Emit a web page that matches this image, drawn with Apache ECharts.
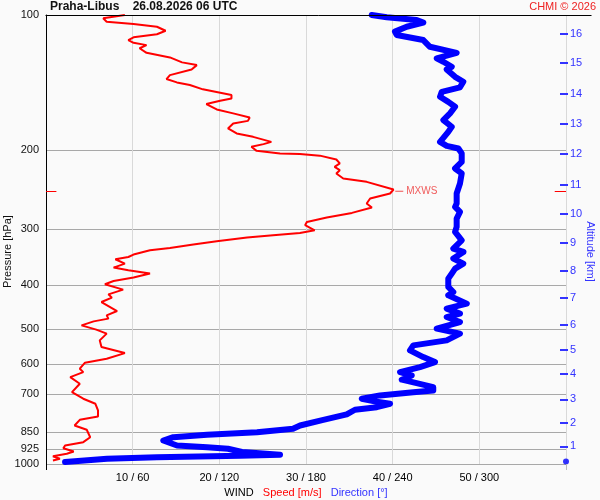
<!DOCTYPE html>
<html><head><meta charset="utf-8">
<script src="https://cdn.jsdelivr.net/npm/echarts@6/dist/echarts.min.js"></script>
<style>html,body{margin:0;padding:0;background:#fafafa}#c{width:600px;height:500px}</style>
</head><body><div id="c"></div>
<script>
// ---- data ----
const pressureTicks = [100, 200, 300, 400, 500, 600, 700, 850, 925, 1000];
const speedTicks = [10, 20, 30, 40, 50];
const altitudeKm = [1, 2, 3, 4, 5, 6, 7, 8, 9, 10, 11, 12, 13, 14, 15, 16];
const altitudeP = [914, 809, 718, 629, 556, 489, 426, 372, 322, 277, 239, 204, 175, 150, 128, 110];

const speedP = [100, 101.7, 103.5, 104.7, 106.2, 108.4, 110.4, 112.1, 113.7, 115.3, 116.7, 118.6, 119.7, 121.4, 124.3, 127.5, 129.3, 132.2, 136.1, 138.9,
  141.3, 143.2, 146.4, 150.8, 153.4, 155.3, 157.9, 159.5, 162.3, 165.6, 169.1, 172.1, 174.4, 178.9, 183.6, 186.8, 191.7, 193.9, 196.6, 200.7,
  203.4, 204.1, 205.7, 209.8, 214.1, 217.9, 221.6, 225.4, 231.3, 235.3, 244.7, 246.9, 249.8, 256.3, 262.9, 268.4, 275.9, 282.5, 289.0, 293.9,
  301.6, 305.8, 309.4, 313.1, 319.1, 324.5, 330.3, 334.2, 341.6, 345.9, 350.0, 357.8, 365.2, 370.3, 376.6, 384.4, 391.2, 397.9, 408.9, 418.9,
  426.0, 435.8, 456.4, 466.6, 474.5, 481.2, 491.1, 502.1, 512.5, 530.4, 549.0, 566.2, 582.7, 594.8, 613.4, 624.2, 640.4, 662.5, 691.8, 715.5,
  734.3, 760.0, 783.8, 797.2, 820.8, 839.0, 871.6, 894.1, 909.5, 922.2, 937.9, 949.0, 960.8, 973.7, 982.3];
const speedVal = [9.1, 6.6, 7.0, 10.1, 12.8, 13.8, 12.8, 10.1, 9.5, 10.1, 11.6, 10.8, 10.6, 11.6, 14.3, 15.7, 17.4, 16.8, 14.3, 13.9,
  15.1, 16.6, 18.1, 21.4, 21.4, 20.1, 18.5, 18.3, 19.7, 21.6, 23.5, 23.3, 21.6, 21.0, 22.0, 23.9, 26.0, 25.1, 23.7, 24.3,
  27.0, 29.3, 31.6, 33.5, 33.9, 33.3, 33.9, 33.5, 34.3, 37.0, 40.1, 40.3, 39.7, 37.4, 37.0, 37.6, 35.3, 32.4, 30.1, 29.9,
  31.0, 29.3, 26.2, 23.2, 19.7, 17.0, 14.3, 12.0, 10.1, 9.5, 8.0, 9.1, 7.8, 9.5, 12.0, 10.1, 7.8, 6.8, 8.9, 7.2,
  7.6, 6.4, 8.2, 7.0, 7.2, 5.5, 4.1, 5.8, 7.0, 6.2, 6.4, 9.1, 7.0, 4.5, 3.9, 4.3, 2.8, 3.9, 3.0, 4.3,
  5.7, 6.0, 6.0, 3.9, 3.3, 4.7, 5.1, 4.3, 2.2, 2.0, 3.2, 2.4, 0.8, 1.6, 0.8];

const dirP = [100, 101.2, 102.6, 104.0, 106.2, 108.9, 110.8, 113.7, 117.7, 121.4, 124.9, 127.1, 130.4, 132.2, 137.3, 140.8, 144.9, 148.3, 152.1, 156.1,
  160.1, 165.6, 171.4, 177.4, 182.1, 191.7, 195.6, 198.3, 203.4, 212.4, 219.7, 225.4, 237.3, 249.8, 262.9, 267.6, 274.5, 284.0, 296.5, 304.2,
  317.5, 331.3, 337.1, 348.7, 357.8, 367.1, 376.6, 386.5, 403.4, 414.0, 421.0, 439.4, 450.8, 462.6, 470.7, 482.9, 499.5, 512.5, 530.4, 544.2,
  558.4, 578.0, 593.0, 608.4, 624.2, 634.9, 649.0, 660.5, 674.2, 685.7, 691.8, 703.5, 715.5, 724.4, 734.3, 747.1, 757.2, 775.6, 797.2, 820.8,
  834.7, 849.4, 860.8, 871.6, 886.4, 894.1, 909.5, 917.5, 925.0, 940.3, 953.9, 958.8, 965.8, 973.7, 989.8];
const dirVal = [225.5, 235.9, 256.6, 261.2, 249.7, 241.6, 242.8, 261.2, 265.8, 284.3, 270.5, 275.1, 280.9, 277.4, 283.2, 288.9, 286.6, 274.0, 272.8, 278.5,
  283.2, 279.7, 275.1, 280.9, 278.5, 272.8, 277.4, 285.5, 287.8, 287.8, 283.2, 287.8, 286.6, 284.3, 284.3, 283.2, 286.6, 284.3, 284.3, 283.2,
  287.8, 282.0, 289.0, 282.0, 288.9, 283.2, 280.9, 278.5, 278.5, 282.0, 278.5, 291.3, 277.4, 286.6, 277.4, 286.6, 270.5, 286.6, 277.4, 254.3,
  252.0, 261.2, 269.3, 258.9, 245.1, 253.2, 246.3, 256.6, 268.1, 268.1, 254.3, 231.2, 218.6, 226.6, 238.2, 229.0, 213.9, 208.2, 192.0, 175.9,
  171.0, 146.1, 111.5, 88.1, 81.2, 82.4, 90.7, 111.5, 126.0, 135.7, 162.0, 134.3, 76.8, 42.2, 13.2];

const maxWindP = 246.9, maxWindSpeed = 40.3;
const stationP = 987;

// ---- chart ----
const FONT = '"Liberation Sans", Arial, sans-serif';
const RED = '#ff0000', BLUE = '#0000ff', LBLUE = '#3333ff';
const LOG = Math.log10;

const chart = echarts.init(document.getElementById('c'), null, { renderer: 'canvas' });

const option = {
  backgroundColor: '#fafafa',
  animation: false,
  textStyle: { fontFamily: FONT },
  title: [
    { text: 'Praha-Libus    26.08.2026 06 UTC', left: 50, top: 1, padding: 0,
      textStyle: { fontSize: 12, fontWeight: 'bold', color: '#111', fontFamily: FONT } },
    { text: 'CHMI © 2026', right: 4, top: 1, padding: 0,
      textStyle: { fontSize: 11, fontWeight: 'normal', color: '#ee2222', fontFamily: FONT } }
  ],
  grid: { left: 46, right: 34, top: 15, bottom: 36, containLabel: false, outerBoundsMode: 'none' },
  xAxis: [
    { type: 'value', min: 0, max: 60, interval: 10, position: 'bottom',
      axisLine: { show: false }, axisTick: { show: false },
      axisLabel: { fontSize: 11, color: '#000', margin: 8, fontFamily: FONT,
        formatter: v => speedTicks.indexOf(v) >= 0 ? (v + ' / ' + v * 6) : '' },
      splitLine: { show: true, lineStyle: { color: '#d9d9d9', width: 1 } },
      name: '{w|WIND}   {s|Speed [m/s]}   {d|Direction [°]}',
      nameLocation: 'middle', nameGap: 21,
      nameTextStyle: { fontSize: 11, fontFamily: FONT,
        rich: { w: { color: '#000', fontSize: 11, fontFamily: FONT },
                s: { color: RED, fontSize: 11, fontFamily: FONT },
                d: { color: LBLUE, fontSize: 11, fontFamily: FONT } } } },
    { type: 'value', min: 0, max: 360, show: false, splitLine: { show: false } }
  ],
  yAxis: [
    { type: 'log', logBase: 10, min: 100, max: 1000, inverse: true, show: false },
    { type: 'value', min: 2, max: 3, inverse: true, position: 'left',
      axisLine: { show: true, lineStyle: { color: '#000', width: 1 } },
      axisTick: { show: false, customValues: pressureTicks.map(LOG) },
      axisLabel: { customValues: pressureTicks.map(LOG), fontSize: 11, color: '#111', margin: 7, fontFamily: FONT,
        formatter: v => String(Math.round(Math.pow(10, v))) },
      splitLine: { show: true, lineStyle: { color: '#a8a8a8', width: 1 } } },
    { type: 'value', min: 2, max: 3, inverse: true, position: 'right', offset: -6,
      axisLine: { show: false },
      axisTick: { show: true, length: 8, customValues: altitudeP.map(LOG), lineStyle: { color: LBLUE, width: 2 } },
      axisLabel: { customValues: altitudeP.map(LOG), fontSize: 11, color: LBLUE, margin: 10, fontFamily: FONT,
        formatter: v => { const i = altitudeP.findIndex(p => Math.abs(LOG(p) - v) < 1e-9); return i >= 0 ? String(altitudeKm[i]) : ''; } },
      splitLine: { show: false } }
  ],
  series: [
    { name: 'Speed', type: 'line', xAxisIndex: 0, yAxisIndex: 0, showSymbol: false, symbol: 'none',
      data: speedP.map((p, i) => [speedVal[i], p]),
      lineStyle: { color: RED, width: 2 }, z: 3 },
    { name: 'Direction', type: 'line', xAxisIndex: 1, yAxisIndex: 0, showSymbol: false, symbol: 'none',
      data: dirP.map((p, i) => [dirVal[i], p]),
      lineStyle: { color: BLUE, width: 6, cap: 'round', join: 'round' }, z: 4 },
    { name: 'MXWS', type: 'scatter', xAxisIndex: 0, yAxisIndex: 0,
      data: [[maxWindSpeed, maxWindP]],
      symbol: 'rect', symbolSize: [8, 1], symbolOffset: [4, 0],
      itemStyle: { color: '#ee2222' },
      label: { show: true, position: 'right', distance: 3, formatter: 'MXWS', color: '#ee3333', fontSize: 10, fontFamily: FONT },
      markLine: { silent: true, symbol: 'none', label: { show: false },
        lineStyle: { color: RED, width: 1, type: 'solid' },
        data: [
          [{ coord: [0, maxWindP] }, { coord: [1.2, maxWindP] }],
          [{ coord: [58.7, maxWindP] }, { coord: [60, maxWindP] }]
        ] },
      z: 5 },
    { name: 'Station', type: 'scatter', xAxisIndex: 1, yAxisIndex: 0, clip: false,
      data: [[360, stationP]], symbol: 'circle', symbolSize: 6,
      itemStyle: { color: BLUE }, z: 6 }
  ]
};
chart.setOption(option);

const tl = chart.convertToPixel({ xAxisIndex: 0, yAxisIndex: 0 }, [0, 100]);
const br = chart.convertToPixel({ xAxisIndex: 0, yAxisIndex: 0 }, [60, 1000]);
const xl = Math.round(tl[0]) + 0.5, yt = Math.round(tl[1]) + 0.5;
const xr = Math.round(br[0]) + 0.5, yb = Math.round(br[1]);
const midY = (tl[1] + br[1]) / 2 + 12;
chart.setOption({
  graphic: [
    { id: 'top', type: 'line', shape: { x1: xl - 1, y1: yt, x2: xr + 25, y2: yt }, style: { stroke: '#000', lineWidth: 1 }, z: 10 },
    { id: 'lstub', type: 'line', shape: { x1: xl, y1: yb, x2: xl, y2: yb + 6 }, style: { stroke: '#000', lineWidth: 1 }, z: 10 },
    { id: 'rstub', type: 'line', shape: { x1: xr, y1: yb, x2: xr, y2: yb + 6 }, style: { stroke: '#bbb', lineWidth: 1 }, z: 10 },
    { id: 'pname', type: 'text', x: 8, y: midY, rotation: Math.PI / 2,
      style: { text: 'Pressure [hPa]', fill: '#111', font: '11px ' + FONT, align: 'center', verticalAlign: 'middle' }, z: 10 },
    { id: 'aname', type: 'text', x: 590, y: midY, rotation: -Math.PI / 2,
      style: { text: 'Altitude [km]', fill: LBLUE, font: '11px ' + FONT, align: 'center', verticalAlign: 'middle' }, z: 10 }
  ]
});
</script></body></html>
